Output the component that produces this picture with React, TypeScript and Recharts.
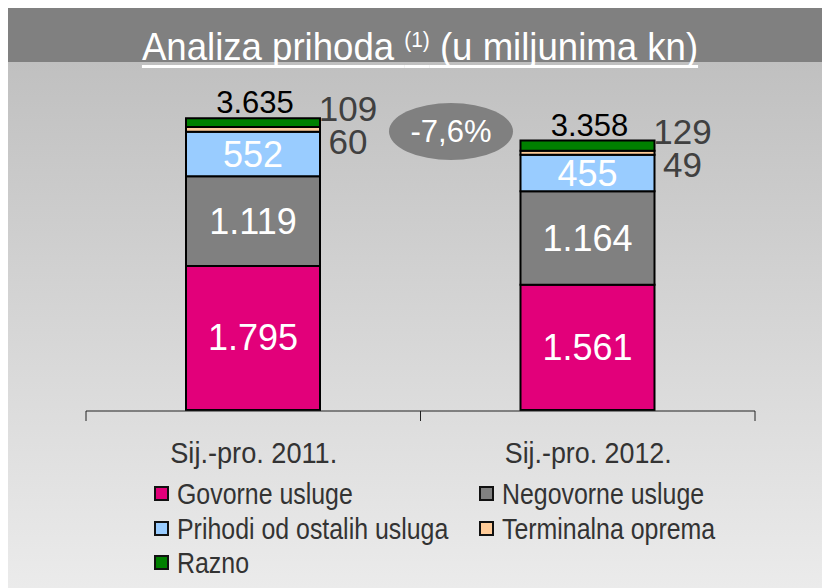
import React from 'react';
import { BarChart, Bar, XAxis, YAxis, LabelList } from 'recharts';

const categories = ['Sij.-pro. 2011.', 'Sij.-pro. 2012.'];
const govorne = [1795, 1561];
const negovorne = [1119, 1164];
const ostale = [552, 455];
const terminalna = [60, 49];
const razno = [109, 129];
const totals = [3635, 3358];
const change = '-7,6%';

const series = [
  { key: 'govorne', name: 'Govorne usluge', color: '#e2007a' },
  { key: 'negovorne', name: 'Negovorne usluge', color: '#808080' },
  { key: 'ostale', name: 'Prihodi od ostalih usluga', color: '#99ccff' },
  { key: 'terminalna', name: 'Terminalna oprema', color: '#ffcc99' },
  { key: 'razno', name: 'Razno', color: '#008000' },
];

const data = categories.map((c, i) => ({
  name: c,
  edge: i,
  govorne: govorne[i],
  negovorne: negovorne[i],
  ostale: ostale[i],
  terminalna: terminalna[i],
  razno: razno[i],
  total: totals[i],
}));

const fmt = (v: number) => v.toLocaleString('de-DE');
const FONT = '"Liberation Sans", Arial, sans-serif';

const inner = (props: any) => {
  const { x, y, width, height, value } = props;
  return (
    <text x={x + width / 2} y={y + height / 2} textAnchor="middle" dominantBaseline="central"
      fill="#fff" fontSize={36} fontFamily={FONT}>{fmt(value)}</text>
  );
};

const side = (dy: number) => (props: any) => {
  const { x, y, width, height, value } = props;
  return (
    <text x={x + width + 28} y={y + height / 2 + dy} textAnchor="middle" dominantBaseline="central"
      fill="#404040" fontSize={35} fontFamily={FONT}>{value}</text>
  );
};

const totalLabel = (props: any) => {
  const { x, y, width, index } = props;
  return (
    <text x={x + width / 2 + 2} y={y - 5} textAnchor="middle"
      fill="#000" fontSize={31} fontFamily={FONT}>{fmt(totals[index])}</text>
  );
};

// labels sit below the boundary-tick axis; y is the axis line
const CatTick = (props: any) => {
  const { x, y, payload } = props;
  return (
    <text x={x - 83} y={y + 45} textLength={167} lengthAdjust="spacingAndGlyphs"
      fill="#333" fontSize={30} fontFamily={FONT}>
      {payload.value}
    </text>
  );
};

export default function App() {
  return (
    <div style={{ position: 'absolute', left: 0, top: 0, width: 822, height: 588, background: '#fff', overflow: 'hidden' }}>
      <div style={{ position: 'absolute', left: 8, top: 62, width: 814, height: 526, background: 'linear-gradient(#c0c0c0, #ebebeb)' }} />
      <div style={{ position: 'absolute', left: 8, top: 8, width: 814, height: 54, background: '#808080' }} />
      <div style={{ position: 'absolute', left: 420, top: 18, whiteSpace: 'nowrap', transform: 'translateX(-50%) scaleX(0.95)', color: '#fff', fontFamily: FONT, fontSize: 38.5, lineHeight: '44px', textDecoration: 'underline', textDecorationThickness: 3, textUnderlineOffset: 5, textDecorationSkipInk: 'none' }}>
        Analiza prihoda <sup style={{ fontSize: 22, verticalAlign: 13 }}>(1)</sup> (u miljunima kn)
      </div>
      <div style={{ position: 'absolute', left: 0, top: 0 }}>
        <BarChart width={822} height={588} data={data} margin={{ top: 89, right: 67, bottom: 176, left: 86 }}>
          <XAxis dataKey="name" axisLine={false} tickLine={false} height={1} tick={<CatTick />} interval={0} />
          <XAxis xAxisId="edges" dataKey="edge" type="number" domain={[0, 2]} ticks={[0, 1, 2]}
            height={1} tickSize={10} tickFormatter={() => ''} stroke="#222" allowDataOverflow />
          <YAxis hide domain={[0, 4000]} />
          <Bar dataKey="govorne" stackId="a" fill="#e2007a" stroke="#000" strokeWidth={2} barSize={134} isAnimationActive={false}>
            <LabelList dataKey="govorne" content={inner} />
          </Bar>
          <Bar dataKey="negovorne" stackId="a" fill="#808080" stroke="#000" strokeWidth={2} barSize={134} isAnimationActive={false}>
            <LabelList dataKey="negovorne" content={inner} />
          </Bar>
          <Bar dataKey="ostale" stackId="a" fill="#99ccff" stroke="#000" strokeWidth={2} barSize={134} isAnimationActive={false}>
            <LabelList dataKey="ostale" content={inner} />
          </Bar>
          <Bar dataKey="terminalna" stackId="a" fill="#ffcc99" stroke="#000" strokeWidth={2} barSize={134} isAnimationActive={false}>
            <LabelList dataKey="terminalna" content={side(12)} />
          </Bar>
          <Bar dataKey="razno" stackId="a" fill="#008000" stroke="#000" strokeWidth={2} barSize={134} isAnimationActive={false}>
            <LabelList dataKey="razno" content={side(-14)} />
            <LabelList dataKey="total" content={totalLabel} />
          </Bar>
        </BarChart>
      </div>
      <div style={{ position: 'absolute', left: 389, top: 103, width: 124, height: 57, borderRadius: '50%', background: '#808080', color: '#fff', fontFamily: FONT, fontSize: 31, lineHeight: '57px', textAlign: 'center' }}>
        {change}
      </div>
      {series.map((s, i) => {
        const col = i % 2;
        const row = Math.floor(i / 2);
        const left = col === 0 ? 154 : 479;
        const top = 486 + row * 34.5;
        return (
          <div key={s.key} style={{ position: 'absolute', left, top, height: 15 }}>
            <span style={{ position: 'absolute', left: 0, top: 0, width: 11, height: 11, border: '2px solid #111', background: s.color }} />
            <span style={{ position: 'absolute', left: 23, top: -9, whiteSpace: 'nowrap', transformOrigin: '0 0', transform: 'scaleX(0.83)', fontFamily: FONT, fontSize: 30, lineHeight: '34px', color: '#333' }}>{s.name}</span>
          </div>
        );
      })}
    </div>
  );
}
